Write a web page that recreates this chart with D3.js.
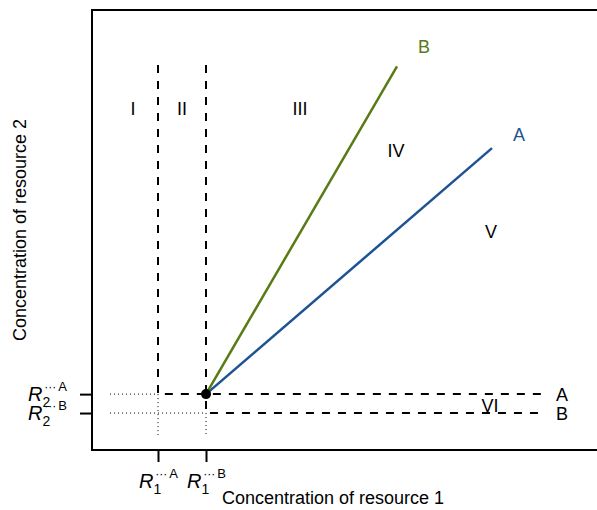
<!DOCTYPE html>
<html>
<head>
<meta charset="utf-8">
<script src="https://cdn.jsdelivr.net/npm/d3@7"></script>
<style>
  body { margin: 0; background: #fff; }
  text { font-family: "Liberation Sans", Arial, Helvetica, sans-serif; }
</style>
</head>
<body>
<svg id="chart" width="597" height="510"></svg>
<script>
// values (arbitrary units, 0..10 on each axis)
const species = ["A", "B"];
const speciesColor = { A: "#1d5393", B: "#5a7a14" };
const rStar1 = { A: 1.32, B: 2.28 };   // R1* per species
const rStar2 = { A: 1.27, B: 0.84 };   // R2* per species
const supplyEnd = { A: [8.0, 6.86], B: [6.1, 8.72] };
const supplyLabelAt = { A: [8.54, 7.18], B: [6.64, 9.18] };
const regionNames = ["I", "II", "III", "IV", "V", "VI"];
const regionX = [0.82, 1.8, 4.16, 6.08, 7.98, 7.96];
const regionY = [7.76, 7.76, 7.76, 6.81, 4.97, 1.01];
const zngiTop = 8.75, zngiRight = 9.0, rightLabelX = 9.4;
const guideStart = 0.36, guideBottom = 0.34;

const svg = d3.select("#chart");

const x = d3.scaleLinear().domain([0, 10]).range([92, 592]);
const y = d3.scaleLinear().domain([0, 10]).range([450, 10]);

// plot box (right side runs off the page)
svg.append("path")
    .attr("d", `M${x(10.6)},${y(0)}H${x(0)}V${y(10)}H${x(10.6)}`)
    .attr("fill", "none")
    .attr("stroke", "#000")
    .attr("stroke-width", 2);

// subscript/superscript tick label like R[1]^"*A"
function rLabel(sel, sub, sup) {
    sel.append("tspan").attr("font-style", "italic").attr("font-size", 20).text("R");
    sel.append("tspan").attr("font-size", 14).attr("dy", 6).text(sub);
    sel.append("tspan").attr("font-size", 12).attr("dx", -6).attr("dy", -16).text("\u00b7\u00b7\u00b7");
    sel.append("tspan").attr("font-size", 13).attr("dx", 2).text(sup);
}

// x axis
const xAxis = svg.append("g")
    .attr("transform", `translate(0,${y(0)})`)
    .call(d3.axisBottom(x).tickValues(species.map(s => rStar1[s])).tickSize(12).tickFormat(() => ""));
xAxis.select(".domain").remove();
xAxis.selectAll(".tick line").attr("stroke-width", 2);
xAxis.selectAll(".tick").each(function(d, i) {
    const t = d3.select(this).append("text")
        .attr("y", 38)
        .attr("text-anchor", "middle")
        .attr("fill", "#000");
    rLabel(t, "1", species[i]);
});

// y axis
const yAxis = svg.append("g")
    .attr("transform", `translate(${x(0)},0)`)
    .call(d3.axisLeft(y).tickValues(species.map(s => rStar2[s])).tickSize(12).tickFormat(() => ""));
yAxis.select(".domain").remove();
yAxis.selectAll(".tick line").attr("stroke-width", 2);
yAxis.selectAll(".tick").each(function(d, i) {
    const t = d3.select(this).append("text")
        .attr("x", -25)
        .attr("y", 6)
        .attr("text-anchor", "end")
        .attr("fill", "#000");
    rLabel(t, "2", species[i]);
});

const line = d3.line().x(d => x(d[0])).y(d => y(d[1]));

// dotted guides to the axes
species.forEach(s => {
    svg.append("path")
        .attr("d", line([[guideStart, rStar2[s]], [rStar1[s], rStar2[s]]]))
        .attr("stroke", "#000").attr("stroke-dasharray", "1,3").attr("fill", "none");
    svg.append("path")
        .attr("d", line([[rStar1[s], rStar2[s]], [rStar1[s], guideBottom]]))
        .attr("stroke", "#000").attr("stroke-dasharray", "1,3").attr("fill", "none");
});

// ZNGIs
species.forEach(s => {
    svg.append("path")
        .attr("d", line([[rStar1[s], zngiTop], [rStar1[s], rStar2[s]], [zngiRight, rStar2[s]]]))
        .attr("fill", "none")
        .attr("stroke", "#000")
        .attr("stroke-width", 2)
        .attr("stroke-dasharray", "8,8");
    svg.append("text")
        .attr("x", x(rightLabelX))
        .attr("y", y(rStar2[s]))
        .attr("dy", "0.36em")
        .attr("text-anchor", "middle")
        .attr("font-size", 18)
        .text(s);
});

// consumption vectors from the coexistence point
const eq = [rStar1.B, rStar2.A];
species.forEach(s => {
    svg.append("path")
        .attr("d", line([eq, supplyEnd[s]]))
        .attr("stroke", speciesColor[s])
        .attr("stroke-width", 2.5)
        .attr("fill", "none");
    svg.append("text")
        .attr("x", x(supplyLabelAt[s][0]))
        .attr("y", y(supplyLabelAt[s][1]))
        .attr("dy", "0.36em")
        .attr("text-anchor", "middle")
        .attr("font-size", 18)
        .attr("fill", speciesColor[s])
        .text(s);
});

svg.append("circle")
    .attr("cx", x(eq[0]))
    .attr("cy", y(eq[1]))
    .attr("r", 5)
    .attr("fill", "#000");

// region numerals
svg.selectAll(".region")
    .data(regionNames)
    .enter().append("text")
    .attr("class", "region")
    .attr("x", (d, i) => x(regionX[i]))
    .attr("y", (d, i) => y(regionY[i]))
    .attr("dy", "0.36em")
    .attr("text-anchor", "middle")
    .attr("font-size", 18)
    .text(d => d);

// axis titles
svg.append("text")
    .attr("x", 333)
    .attr("y", 504)
    .attr("text-anchor", "middle")
    .attr("font-size", 18)
    .text("Concentration of resource 1");

svg.append("text")
    .attr("transform", "translate(26,230) rotate(-90)")
    .attr("text-anchor", "middle")
    .attr("font-size", 18)
    .text("Concentration of resource 2");
</script>
</body>
</html>
